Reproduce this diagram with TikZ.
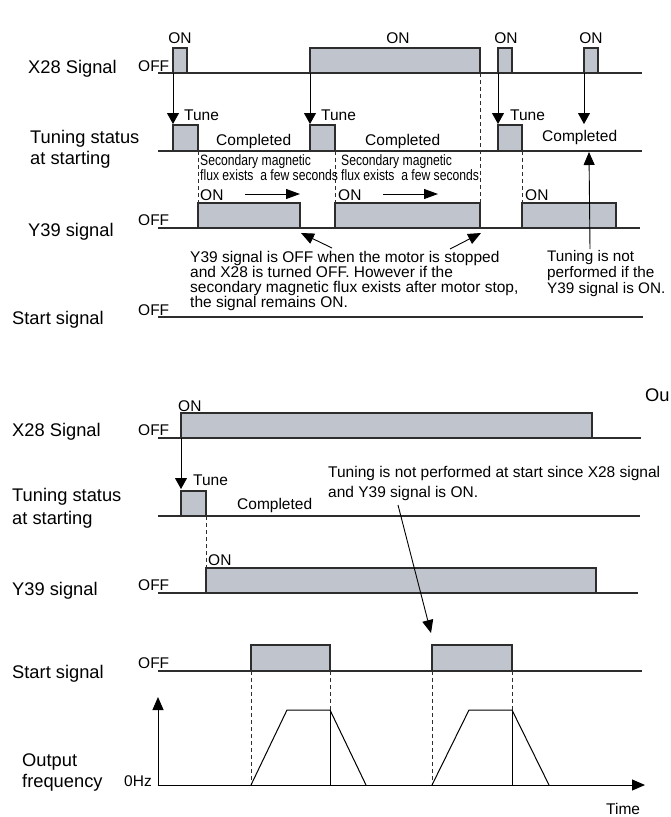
\documentclass[tikz,border=0pt]{standalone}
\usepackage{fontspec}
\setmainfont{Liberation Sans}
\newfontfamily\narrowfont[FakeStretch=0.81]{Liberation Sans}
\usepackage{tikz}
\usetikzlibrary{arrows.meta, positioning}
\definecolor{pulseGray}{RGB}{192,196,204}
\definecolor{lineGray}{RGB}{45,45,45}
\tikzset{
  sigline/.style={draw=lineGray, line width=1.2pt},
  pulse/.style={draw=lineGray, fill=pulseGray, line width=1.2pt},
  guide/.style={draw=lineGray, line width=0.7pt, dash pattern=on 4pt off 3pt},
  ramp/.style={draw=black, line width=1pt},
  tunearr/.style={draw=black, line width=0.9pt, -{Triangle[length=11pt, width=12pt]}},
  fluxarr/.style={draw=black, line width=0.9pt, -{Triangle[length=14pt, width=10pt]}},
  notearr/.style={draw=black, line width=0.9pt, -{Triangle[length=13pt, width=11pt]}},
  axisarr/.style={draw=black, line width=1pt, -{Triangle[length=13pt, width=11pt]}},
  sigL/.style={anchor=base west, inner sep=0pt, font=\fontsize{18.3}{22}\selectfont},
  stateL/.style={anchor=base west, inner sep=0pt, font=\fontsize{15.5}{18}\selectfont},
  noteL/.style={anchor=north west, inner sep=0pt, align=left,
                font=\fontsize{15.5}{15}\selectfont},
  fluxL/.style={anchor=north west, inner sep=0pt, align=left,
                font=\narrowfont\fontsize{15}{15}\selectfont},
}

\begin{document}
\begin{tikzpicture}[x=1pt, y=-1pt]
    \useasboundingbox (0,0) rectangle (671,817);

    %% ===== upper chart =====
    %% signal names
    \node[sigL] (x28A)  at (28,73)  {X28 Signal};
    \node[sigL] (tunA)  at (30,143) {Tuning status};
    \node[sigL] (tunA2) at (30,164) {at starting};
    \node[sigL] (y39A)  at (28,236) {Y39 signal};
    \node[sigL] (stA)   at (12,324) {Start signal};
    \node[stateL] (offX28A) at (138,71)  {OFF};
    \node[stateL] (offY39A) at (138,225) {OFF};
    \node[stateL] (offStA)  at (138,315) {OFF};
    %% base lines
    \draw[sigline] (158,73)  -- (642,73);
    \draw[sigline] (158,151) -- (642,151);
    \draw[sigline] (158,228) -- (640,228);
    \draw[sigline] (158,317) -- (643,317);
    %% X28 pulses
    \draw[pulse] (173,73) rectangle (187,48);
    \draw[pulse] (310,73) rectangle (480,48);
    \draw[pulse] (498,73) rectangle (512,48);
    \draw[pulse] (584,73) rectangle (598,48);
    \node[stateL, anchor=base] (onA1) at (180,43) {ON};
    \node[stateL, anchor=base] (onA2) at (398,43) {ON};
    \node[stateL, anchor=base] (onA3) at (506,43) {ON};
    \node[stateL, anchor=base] (onA4) at (591,43) {ON};
    %% tuning pulses
    \draw[pulse] (173,151) rectangle (198,125);
    \draw[pulse] (310,151) rectangle (335,125);
    \draw[pulse] (498,151) rectangle (522,125);
    %% Y39 pulses
    \draw[pulse] (198,228) rectangle (300,203);
    \draw[pulse] (335,228) rectangle (480,203);
    \draw[pulse] (522,228) rectangle (616,203);
    %% dashed guides
    \draw[guide] (198,151) -- (198,203);
    \draw[guide] (335,151) -- (335,203);
    \draw[guide] (480,73)  -- (480,203);
    \draw[guide] (522,151) -- (522,203);
    %% X28 -> tune arrows
    \coordinate (swA1) at (173,73);  \coordinate (tuA1) at (173,124);
    \coordinate (swA2) at (310,73);  \coordinate (tuA2) at (310,124);
    \coordinate (swA3) at (498,73);  \coordinate (tuA3) at (498,124);
    \coordinate (swA4) at (584,73);  \coordinate (tuA4) at (584,124);
    \draw[tunearr] (swA1) -- (tuA1);
    \draw[tunearr] (swA2) -- (tuA2);
    \draw[tunearr] (swA3) -- (tuA3);
    \draw[tunearr] (swA4) -- (tuA4);
    \node[stateL] (tuneA1) at (184,120) {Tune};
    \node[stateL] (tuneA2) at (321,120) {Tune};
    \node[stateL] (tuneA3) at (510,120) {Tune};
    \node[stateL] (doneA1) at (216,145) {Completed};
    \node[stateL] (doneA2) at (365,145) {Completed};
    \node[stateL] (doneA3) at (542,141) {Completed};
    %% secondary flux remarks
    \node[fluxL] (fluxA1) at (200,154) {Secondary magnetic\\flux exists\ \ a few seconds};
    \node[fluxL] (fluxA2) at (341,154) {Secondary magnetic\\flux exists\ \ a few seconds};
    \node[stateL] (onY1) at (200,200) {ON};
    \node[stateL] (onY2) at (338,200) {ON};
    \node[stateL] (onY3) at (525,200) {ON};
    \coordinate (fxS1) at (245,194);  \coordinate (fxE1) at (300,194);
    \coordinate (fxS2) at (383,194);  \coordinate (fxE2) at (438,194);
    \draw[fluxarr] (fxS1) -- (fxE1);
    \draw[fluxarr] (fxS2) -- (fxE2);
    %% notes
    \node[noteL] (stopNote) at (190,251.5)
      {Y39 signal is OFF when the motor is stopped\\and X28 is turned OFF. However if the\\secondary magnetic flux exists after motor stop,\\the signal remains ON.};
    \coordinate (stopT1) at (332,248);  \coordinate (y39E1) at (301,233);
    \coordinate (stopT2) at (450,249);  \coordinate (y39E2) at (481,233);
    \draw[notearr] (stopT1) -- (y39E1);
    \draw[notearr] (stopT2) -- (y39E2);
    \node[noteL, font=\fontsize{15.3}{16}\selectfont] (skipNote) at (547,250.5)
      {Tuning is not\\performed if the\\Y39 signal is ON.};
    \coordinate (skipT) at (590,249);  \coordinate (skipE) at (589,152);
    \draw[notearr] (skipT) -- (skipE);

    %% ===== lower chart =====
    \node[sigL] (x28B)  at (12,436) {X28 Signal};
    \node[sigL] (tunB)  at (12,501) {Tuning status};
    \node[sigL] (tunB2) at (12,524) {at starting};
    \node[sigL] (y39B)  at (12,595) {Y39 signal};
    \node[sigL] (stB)   at (12,678) {Start signal};
    \node[sigL] (outB)  at (22,766) {Output};
    \node[sigL] (outB2) at (22,787) {frequency};
    \node[sigL] (cutB)  at (645,401) {Ou};
    \node[stateL] (offX28B) at (138,435) {OFF};
    \node[stateL] (offY39B) at (138,590) {OFF};
    \node[stateL] (offStB)  at (138,668) {OFF};
    \node[stateL] (zeroHz)  at (124,786) {0Hz};
    \node[stateL] (timeL)   at (606,814) {Time};
    %% base lines
    \draw[sigline] (158,438) -- (641,438);
    \draw[sigline] (158,516) -- (640,516);
    \draw[sigline] (158,593) -- (638,593);
    \draw[sigline] (158,671) -- (642,671);
    %% pulses
    \draw[pulse] (181,438) rectangle (592,413);
    \draw[pulse] (181,516) rectangle (206,491);
    \draw[pulse] (206,593) rectangle (596,568);
    \draw[pulse] (251,671) rectangle (330,645);
    \draw[pulse] (432,671) rectangle (512,645);
    \node[stateL] (onB1) at (178,411) {ON};
    \node[stateL] (onB2) at (208,565) {ON};
    \draw[guide] (206,516) -- (206,568);
    %% tune arrow
    \coordinate (swB1) at (181,438);  \coordinate (tuB1) at (181,489);
    \draw[tunearr] (swB1) -- (tuB1);
    \node[stateL] (tuneB1) at (193,485) {Tune};
    \node[stateL] (doneB1) at (237,509) {Completed};
    %% note
    \node[noteL, font=\fontsize{15.5}{19.5}\selectfont] (startNote) at (328,466.5)
      {Tuning is not performed at start since X28 signal\\and Y39 signal is ON.};
    \coordinate (startT) at (398,505);  \coordinate (startE) at (431,633);
    \draw[notearr] (startT) -- (startE);
    %% output frequency
    \coordinate (orig) at (158,785);
    \coordinate (fTop) at (158,697);
    \coordinate (tEnd) at (645,785);
    \draw[axisarr] (orig) -- (fTop);
    \draw[axisarr] (orig) -- (tEnd);
    \draw[guide] (251,671) -- (251,785);
    \draw[guide] (330,671) -- (330,710);
    \draw[guide] (432,671) -- (432,785);
    \draw[guide] (512,671) -- (512,710);
    \draw[ramp] (251,785) -- (287,710) -- (330,710) -- (366,785);
    \draw[ramp] (330,710) -- (330,785);
    \draw[ramp] (432,785) -- (469,710) -- (512,710) -- (549,785);
    \draw[ramp] (512,710) -- (512,785);
\end{tikzpicture}
\end{document}
